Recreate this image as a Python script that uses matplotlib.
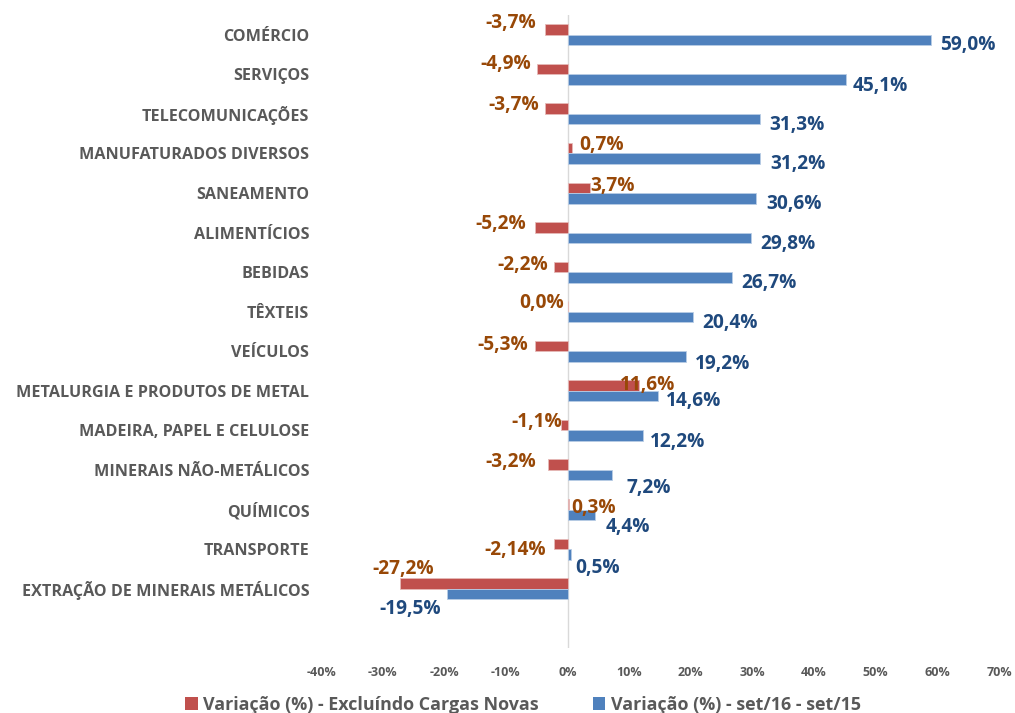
import matplotlib
matplotlib.use("Agg")
import matplotlib.pyplot as plt
from matplotlib.patches import Patch

categories = ["COMÉRCIO", "SERVIÇOS", "TELECOMUNICAÇÕES", "MANUFATURADOS DIVERSOS",
              "SANEAMENTO", "ALIMENTÍCIOS", "BEBIDAS", "TÊXTEIS", "VEÍCULOS",
              "METALURGIA E PRODUTOS DE METAL", "MADEIRA, PAPEL E CELULOSE",
              "MINERAIS NÃO-METÁLICOS", "QUÍMICOS", "TRANSPORTE",
              "EXTRAÇÃO DE MINERAIS METÁLICOS"]
excl_values = [-3.7, -4.9, -3.7, 0.7, 3.7, -5.2, -2.2, 0.0, -5.3, 11.6, -1.1, -3.2, 0.3, -2.14, -27.2]
excl_labels = ["-3,7%", "-4,9%", "-3,7%", "0,7%", "3,7%", "-5,2%", "-2,2%", "0,0%", "-5,3%",
               "11,6%", "-1,1%", "-3,2%", "0,3%", "-2,14%", "-27,2%"]
var_values = [59.0, 45.1, 31.3, 31.2, 30.6, 29.8, 26.7, 20.4, 19.2, 14.6, 12.2, 7.2, 4.4, 0.5, -19.5]
var_labels = ["59,0%", "45,1%", "31,3%", "31,2%", "30,6%", "29,8%", "26,7%", "20,4%", "19,2%",
              "14,6%", "12,2%", "7,2%", "4,4%", "0,5%", "-19,5%"]
xticks = [-40, -30, -20, -10, 0, 10, 20, 30, 40, 50, 60, 70]
series_names = ["Variação (%) - Excluíndo Cargas Novas", "Variação (%) - set/16 - set/15"]

# label offsets in pixels from bar end (dx, dy; dy positive = down)
excl_off = [(-34, -7), (-32, -5), (-31, -4), (30, -3), (22, -2), (-35, -3), (-31, -2), (-26, -3),
            (-32, -1), (9, -1), (-24, -3), (-37, -3), (24, 4), (-39, 6), (3, -14)]
var_off = [(37, 5), (35, 6), (37, 6), (38, 5), (38, 6), (37, 6), (37, 6), (37, 6), (37, 7),
           (36, 5), (35, 6), (37, 13), (33, 12), (27, 14), (-37, 15)]

RED = "#C0504D"
BLUE = "#4F81BD"
RED_TXT = "#984807"
BLUE_TXT = "#1F497D"
GRAY = "#595959"
FONT = ["Open Sans", "DejaVu Sans"]
plt.rcParams["font.family"] = FONT

W, H = 1015, 713
fig = plt.figure(figsize=(W / 100, H / 100), dpi=100)
ax = fig.add_axes([321 / W, 1 - 648 / H, (999 - 321) / W, (648 - 15) / H])

n = len(categories)
pos = list(range(n))
bh = 0.265
ax.barh([p - bh / 2 for p in pos], excl_values, height=bh, color=RED, zorder=3,
        edgecolor="#E6B9B8", linewidth=0.6)
ax.barh([p + bh / 2 for p in pos], var_values, height=bh, color=BLUE, zorder=3,
        edgecolor="#B9CDE5", linewidth=0.6)

ax.set_xlim(-40, 70)
ax.set_ylim(n + 0.5, -0.5)
ax.axvline(0, color="#D9D9D9", lw=1, zorder=2)

for p, v, t, (dx, dy) in zip(pos, excl_values, excl_labels, excl_off):
    ax.annotate(t, (v, p - bh / 2), xytext=(dx, -dy), textcoords="offset pixels",
                ha="center", va="center", color=RED_TXT, fontsize=13.8, fontweight="bold", zorder=4)
for p, v, t, (dx, dy) in zip(pos, var_values, var_labels, var_off):
    ax.annotate(t, (v, p + bh / 2), xytext=(dx, -dy), textcoords="offset pixels",
                ha="center", va="center", color=BLUE_TXT, fontsize=13.8, fontweight="bold", zorder=4)

ax.set_yticks(pos)
ax.set_yticklabels(categories, fontsize=11.6, fontweight="bold", color=GRAY)
ax.set_xticks(xticks)
ax.set_xticklabels([f"{x}%" for x in xticks], fontsize=9, fontweight="bold", color=GRAY)
ax.tick_params(axis="both", length=0)
ax.tick_params(axis="y", pad=8.4)
ax.tick_params(axis="x", pad=13)
for s in ax.spines.values():
    s.set_visible(False)

handles = [Patch(facecolor=RED), Patch(facecolor=BLUE)]
fig.legend(handles, series_names, loc="center", bbox_to_anchor=(523 / W, 1 - 705 / H), ncol=2,
           frameon=False, prop={"size": 12.9, "weight": "bold", "family": FONT},
           labelcolor=GRAY, handlelength=0.7, handleheight=0.7, handletextpad=0.3, columnspacing=3.0)

fig.savefig("out.png", dpi=100)
